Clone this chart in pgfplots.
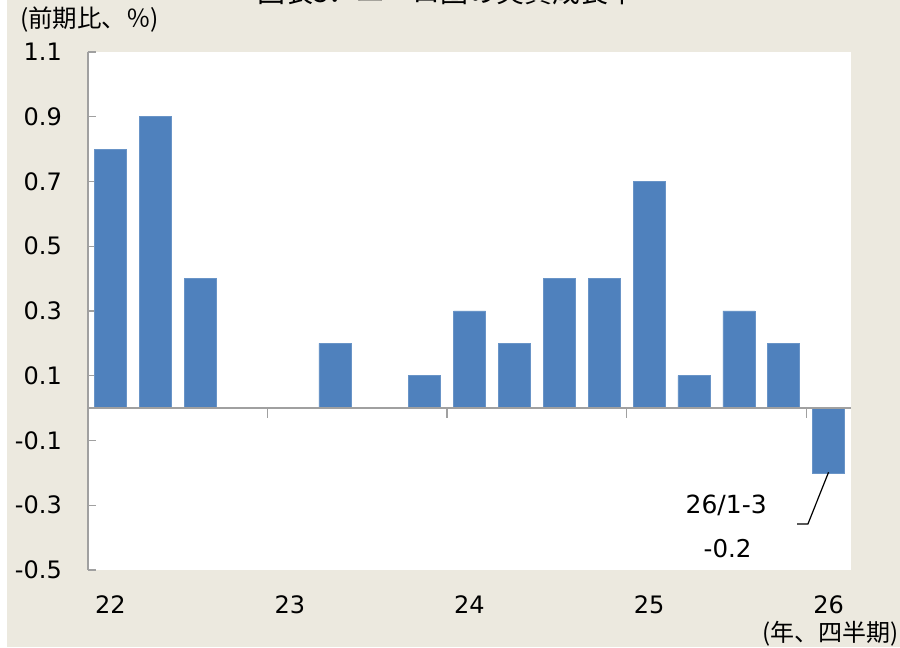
\documentclass[border=0pt]{standalone}
\usepackage{pgfplots}
\pgfplotsset{compat=1.18}
\usepackage{fontspec}
\setmainfont{DejaVu Sans}
\newfontfamily\jp{Noto Sans CJK JP}
\definecolor{bg}{HTML}{ECE9DF}
\definecolor{barblue}{HTML}{4F81BD}
\definecolor{axgray}{HTML}{A0A0A0}
\begin{document}
\begin{tikzpicture}[x=1pt,y=1pt]
\useasboundingbox (0,0) rectangle (900,648);
\clip (0,0) rectangle (900,648);
\fill[white] (0,0) rectangle (900,648);
\fill[bg] (7,1) rectangle (900,648);
\node[anchor=base, inner sep=0pt, font=\jp\fontsize{28}{30}\selectfont] at (447,645) {図表3．ユーロ圏の実質成長率};
\node[anchor=west, inner sep=0pt, font=\jp\fontsize{24.5}{26}\selectfont] at (20,628) {(前期比、％)};
\node[anchor=east, inner sep=0pt, font=\jp\fontsize{24}{26}\selectfont] at (899,14) {(年、四半期)};
\begin{axis}[
  at={(88pt,78pt)}, anchor=south west, scale only axis,
  width=763pt, height=518pt,
  axis background/.style={fill=white},
  xmin=-0.5, xmax=16.5, ymin=-0.5, ymax=1.1,
  clip=false,
  axis lines*=left,
  x axis line style={draw=none},
  y axis line style={axgray, line width=1.2pt},
  xtick={0,4,8,12,16}, xticklabels={22,23,24,25,26},
  xtick style={draw=none},
  ytick={-0.5,-0.3,-0.1,0.1,0.3,0.5,0.7,0.9,1.1},
  yticklabels={-0.5,-0.3,-0.1,0.1,0.3,0.5,0.7,0.9,1.1},
  ytick style={axgray, line width=1.2pt},
  tick align=inside, major tick length=8pt,
  ticklabel style={font=\fontsize{24}{26}\selectfont, inner sep=0pt},
  xticklabel style={anchor=north, yshift=-25pt},
  yticklabel style={anchor=east, xshift=-26pt},
]
\addplot[ybar, bar width=32pt, fill=barblue, draw=barblue!85!white, line width=0.6pt]
coordinates {(0,0.8) (1,0.9) (2,0.4) (3,0) (4,0) (5,0.2) (6,0) (7,0.1) (8,0.3) (9,0.2) (10,0.4) (11,0.4) (12,0.7) (13,0.1) (14,0.3) (15,0.2) (16,-0.2)};
\draw[axgray, line width=2pt] (axis cs:-0.5,0) -- (axis cs:16.5,0);
\draw[axgray, line width=1.2pt] (axis cs:3.5,0) -- (axis cs:3.5,-0.032);
\draw[axgray, line width=1.2pt] (axis cs:7.5,0) -- (axis cs:7.5,-0.032);
\draw[axgray, line width=1.2pt] (axis cs:11.5,0) -- (axis cs:11.5,-0.032);
\draw[axgray, line width=1.2pt] (axis cs:15.5,0) -- (axis cs:15.5,-0.032);
\draw[black, line width=1.2pt] (axis cs:16,-0.198) -- (axis cs:15.54,-0.358) -- (axis cs:15.30,-0.358);
\node[font=\fontsize{25}{27}\selectfont, inner sep=0pt] at (axis cs:13.72,-0.30) {26/1-3};
\node[font=\fontsize{24.5}{27}\selectfont, inner sep=0pt] at (axis cs:13.75,-0.435) {-0.2};
\end{axis}
\end{tikzpicture}
\end{document}
